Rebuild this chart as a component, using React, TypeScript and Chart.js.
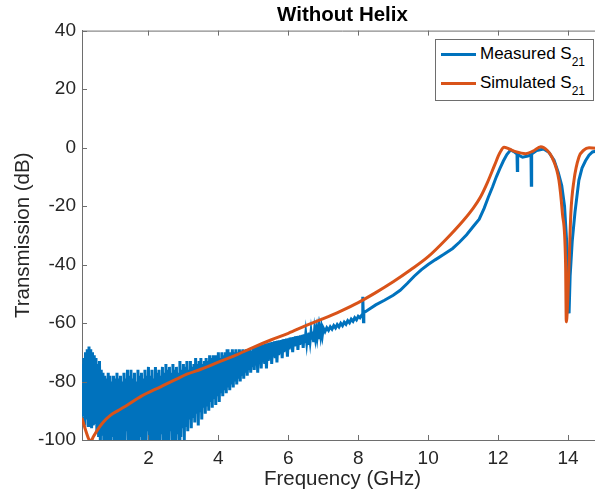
import React, { useEffect, useRef } from 'react';
import { Chart, registerables } from 'chart.js';

Chart.register(...registerables);

// ---------- data ----------
const chartTitle = 'Without Helix';
const xAxisLabel = 'Frequency (GHz)';
const yAxisLabel = 'Transmission (dB)';
const xTickValues = [2, 4, 6, 8, 10, 12, 14];
const yTickValues = [-100, -80, -60, -40, -20, 0, 20, 40];
const xRange = [0.1, 15];
const yRange = [-100, 40];

// measured: noisy low-frequency sweep (0.1 – 5 GHz)
const noiseFreq = [
  0.100, 0.125, 0.150, 0.175, 0.200, 0.225, 0.250, 0.275, 0.300, 0.325,
  0.350, 0.375, 0.400, 0.425, 0.450, 0.475, 0.500, 0.525, 0.550, 0.575,
  0.600, 0.625, 0.650, 0.675, 0.700, 0.725, 0.750, 0.775, 0.800, 0.825,
  0.850, 0.875, 0.900, 0.925, 0.950, 0.975, 1.000, 1.025, 1.050, 1.075,
  1.100, 1.125, 1.150, 1.175, 1.200, 1.225, 1.250, 1.275, 1.300, 1.325,
  1.350, 1.375, 1.400, 1.425, 1.450, 1.475, 1.500, 1.525, 1.550, 1.575,
  1.600, 1.625, 1.650, 1.675, 1.700, 1.725, 1.750, 1.775, 1.800, 1.825,
  1.850, 1.875, 1.900, 1.925, 1.950, 1.975, 2.000, 2.025, 2.050, 2.075,
  2.100, 2.125, 2.150, 2.175, 2.200, 2.225, 2.250, 2.275, 2.300, 2.325,
  2.350, 2.375, 2.400, 2.425, 2.450, 2.475, 2.500, 2.525, 2.550, 2.575,
  2.600, 2.625, 2.650, 2.675, 2.700, 2.725, 2.750, 2.775, 2.800, 2.825,
  2.850, 2.875, 2.900, 2.925, 2.950, 2.975, 3.000, 3.025, 3.050, 3.075,
  3.100, 3.125, 3.150, 3.175, 3.200, 3.225, 3.250, 3.275, 3.300, 3.325,
  3.350, 3.375, 3.400, 3.425, 3.450, 3.475, 3.500, 3.525, 3.550, 3.575,
  3.600, 3.625, 3.650, 3.675, 3.700, 3.725, 3.750, 3.775, 3.800, 3.825,
  3.850, 3.875, 3.900, 3.925, 3.950, 3.975, 4.000, 4.025, 4.050, 4.075,
  4.100, 4.125, 4.150, 4.175, 4.200, 4.225, 4.250, 4.275, 4.300, 4.325,
  4.350, 4.375, 4.400, 4.425, 4.450, 4.475, 4.500, 4.525, 4.550, 4.575,
  4.600, 4.625, 4.650, 4.675, 4.700, 4.725, 4.750, 4.775, 4.800, 4.825,
  4.850, 4.875, 4.900, 4.925, 4.950, 4.975, 5.000,
];
const noiseDb = [
  -74, -92, -72, -95, -70, -93, -69, -95, -68, -94,
  -69, -96, -70, -95, -71, -94, -72, -97, -74, -99,
  -73, -102, -76, -98, -77, -102, -78, -100, -79, -102,
  -77, -101, -78, -102, -80, -99, -78, -102, -79, -102,
  -77, -97, -79, -102, -78, -101, -80, -102, -77, -102,
  -79, -97, -76, -102, -78, -100, -76, -102, -79, -102,
  -77, -101, -80, -102, -76, -102, -78, -99, -77, -102,
  -79, -102, -76, -101, -78, -97, -75, -102, -78, -102,
  -76, -100, -79, -102, -75, -102, -77, -101, -76, -102,
  -78, -98, -75, -102, -77, -102, -74, -101, -76, -102,
  -75, -97, -77, -102, -74, -100, -76, -102, -75, -98,
  -77, -102, -73, -99, -76, -96, -74, -100, -75, -95,
  -73, -97, -76, -93, -73, -96, -75, -92, -74, -94,
  -72, -91, -74, -95, -73, -90, -72, -93, -74, -89,
  -73, -91, -72, -88, -73, -90, -71, -87, -72, -89,
  -71, -86, -72, -88, -71, -85, -70, -87, -72, -84,
  -70, -85, -71, -83, -70, -84, -69, -82, -71, -83,
  -70, -81, -69, -82, -70, -80, -69, -81, -70, -79,
  -69, -80, -69.5, -78, -69, -79, -69.5, -77, -69, -78,
  -69.5, -76, -69, -77, -69.5, -75, -68.5,
];

// measured: narrowing band (5 – 8 GHz)
const bandFreq = [
  5.025, 5.050, 5.075, 5.100, 5.125, 5.150, 5.175, 5.200, 5.225, 5.250,
  5.275, 5.300, 5.325, 5.350, 5.375, 5.400, 5.425, 5.450, 5.475, 5.500,
  5.525, 5.550, 5.575, 5.600, 5.625, 5.650, 5.675, 5.700, 5.725, 5.750,
  5.775, 5.800, 5.825, 5.850, 5.875, 5.900, 5.925, 5.950, 5.975, 6.000,
  6.025, 6.050, 6.075, 6.100, 6.125, 6.150, 6.175, 6.200, 6.225, 6.250,
  6.275, 6.300, 6.325, 6.350, 6.375, 6.400, 6.425, 6.450, 6.475, 6.500,
  6.525, 6.550, 6.575, 6.600, 6.625, 6.650, 6.675, 6.700, 6.725, 6.750,
  6.775, 6.800, 6.825, 6.850, 6.875, 6.900, 6.925, 6.950, 6.975, 7.000,
  7.050, 7.100, 7.150, 7.200, 7.250, 7.300, 7.350, 7.400, 7.450, 7.500,
  7.550, 7.600, 7.650, 7.700, 7.750, 7.800, 7.850, 7.900, 7.950, 8.000,
];
const bandDb = [
  -76, -68.3, -74.5, -68.1, -77, -67.9, -74, -67.7, -75.5, -67.5,
  -73.5, -67.3, -74, -67.1, -75.5, -66.9, -73, -66.8, -72.5, -66.6,
  -74, -66.5, -71.5, -66.3, -72, -66.2, -73.5, -66, -71, -65.9,
  -70.5, -65.8, -72, -65.6, -70, -65.5, -69.5, -65.3, -71.5, -65.2,
  -69, -65, -68.5, -64.9, -70, -64.8, -68, -64.6, -67.8, -64.5,
  -69.2, -64.4, -67.5, -64.2, -67.2, -64.1, -68.5, -63.9, -66.8, -63.7,
  -66.5, -63.5, -67.5, -63.3, -66, -63.1, -65.7, -62.9, -66.5, -62.7,
  -65, -62.5, -64.8, -62.3, -65.5, -62.1, -64.3, -61.9, -64, -61.7,
  -62.9, -61.6, -62.5, -61.3, -62.1, -60.9, -61.7, -60.5, -61.3, -60.1,
  -60.9, -59.7, -60.4, -59.2, -59.9, -58.7, -59.4, -58.2, -58.9, -57.7,
];

// measured: smooth part (8 – 15 GHz)
const measuredFreq = [
  8.05, 8.10, 8.12, 8.13, 8.15, 8.16, 8.30, 8.50, 8.75, 9.00,
  9.20, 9.40, 9.60, 9.80, 10.00, 10.20, 10.45, 10.70, 10.90, 11.10,
  11.30, 11.46, 11.60, 11.72, 11.84, 11.95, 12.05, 12.15, 12.25, 12.36,
  12.45, 12.54, 12.55, 12.56, 12.70, 12.85, 12.94, 12.95, 12.96, 13.10,
  13.30, 13.45, 13.60, 13.72, 13.82, 13.90, 13.96, 14.00, 14.03, 14.06,
  14.12, 14.20, 14.31, 14.40, 14.50, 14.60, 14.70, 14.85, 15.00,
];
const measuredDb = [
  -58.2, -57.3, -57, -51, -59.6, -56.5, -55.4, -53.8, -52.2, -50.5,
  -48.8, -46.5, -44, -41.8, -40, -38.4, -36.5, -34.5, -32.3, -29.8,
  -26.8, -24.5, -20.8, -17, -13.5, -10, -7.2, -4.6, -2.4, -0.8,
  -1.4, -2.2, -7.8, -2.4, -3.3, -2.9, -2.4, -12.9, -2.2, -1,
  -0.5, -1.6, -4.3, -8.5, -13, -20, -32, -44, -56.7, -44,
  -32, -22, -11.2, -7, -4.5, -2.6, -1.5, -1.1, -1,
];

const simulatedFreq = [
  0.10, 0.20, 0.30, 0.36, 0.42, 0.54, 0.70, 0.92, 1.15, 1.40,
  1.80, 2.35, 2.80, 3.10, 3.50, 4.00, 4.50, 5.00, 5.50, 6.00,
  6.50, 7.00, 7.50, 8.00, 8.50, 9.00, 9.50, 10.00, 10.50, 11.00,
  11.30, 11.50, 11.70, 11.90, 12.05, 12.17, 12.30, 12.50, 12.79, 13.00,
  13.22, 13.40, 13.55, 13.74, 13.84, 13.93, 13.95, 14.03, 14.08, 14.17,
  14.31, 14.45, 14.60, 14.80, 15.00,
];
const simulatedDb = [
  -92.5, -96.5, -99.8, -100.3, -99, -96.6, -94, -91.5, -89.8, -88,
  -85, -81.8, -79.2, -77.5, -75.8, -73.4, -71, -68.3, -65.8, -63.5,
  -60.9, -58.5, -55.9, -53, -49.6, -45.9, -41.8, -37.3, -31.5, -25,
  -20.5, -16.8, -11.8, -6, -1.8, 0.1, -0.4, -1.4, -2.1, -1.2,
  0.3, -0.9, -3.5, -11.2, -22.6, -39.7, -59.6, -39.7, -22.6, -11.2,
  -3.3, -0.9, -0.1, -0.2, -0.6,
];

const legendLabels = ['Measured S', 'Simulated S'];
const legendSubscripts = ['21', '21'];

// ---------- styles ----------
const FONT = "'Liberation Sans', Arial, Helvetica, sans-serif";
const BLUE = '#0072BD';
const ORANGE = '#D95319';
const AXIS_COLOR = '#262626';
const AXIS_LINE = '#6e6e6e';
const TICK_LEN = 5;

const boxTicksPlugin = {
  id: 'boxTicks',
  afterDatasetsDraw(chart: any) {
    const { ctx, chartArea } = chart;
    const { left, right, top, bottom } = chartArea;
    const xs = chart.scales.x;
    const ys = chart.scales.y;
    ctx.save();
    ctx.strokeStyle = AXIS_LINE;
    ctx.lineWidth = 1;
    ctx.beginPath();
    ctx.moveTo(left, top + 0.5);
    ctx.lineTo(right, top + 0.5);
    ctx.moveTo(right - 0.5, top);
    ctx.lineTo(right - 0.5, bottom);
    xs.ticks.forEach((t: any) => {
      const px = Math.round(xs.getPixelForValue(t.value)) + 0.5;
      ctx.moveTo(px, bottom);
      ctx.lineTo(px, bottom - TICK_LEN);
      ctx.moveTo(px, top);
      ctx.lineTo(px, top + TICK_LEN);
    });
    ys.ticks.forEach((t: any) => {
      const py = Math.round(ys.getPixelForValue(t.value)) + 0.5;
      ctx.moveTo(left, py);
      ctx.lineTo(left + TICK_LEN, py);
      ctx.moveTo(right, py);
      ctx.lineTo(right - TICK_LEN, py);
    });
    ctx.stroke();
    ctx.restore();
  },
};

export default function App() {
  const ref = useRef<HTMLCanvasElement>(null);

  useEffect(() => {
    const canvas = ref.current;
    if (!canvas) return;
    Chart.defaults.font.family = FONT;
    const allMeasuredFreq = noiseFreq.concat(bandFreq, measuredFreq);
    const allMeasuredDb = noiseDb.concat(bandDb, measuredDb);
    const chart = new Chart(canvas, {
      type: 'line',
      data: {
        datasets: [
          {
            label: 'Measured S21',
            data: allMeasuredFreq.map((f, i) => ({ x: f, y: allMeasuredDb[i] })),
            borderColor: BLUE,
            backgroundColor: BLUE,
            borderWidth: 3,
            pointRadius: 0,
            tension: 0,
            clip: 0,
            order: 1,
          } as any,
          {
            label: 'Simulated S21',
            data: simulatedFreq.map((f, i) => ({ x: f, y: simulatedDb[i] })),
            borderColor: ORANGE,
            backgroundColor: ORANGE,
            borderWidth: 3,
            pointRadius: 0,
            cubicInterpolationMode: 'monotone',
            clip: 0,
            order: 0,
          } as any,
        ],
      },
      options: {
        responsive: false,
        animation: false,
        devicePixelRatio: 1,
        events: [],
        layout: { padding: 0 },
        plugins: {
          legend: { display: false },
          tooltip: { enabled: false },
          title: {
            display: true,
            text: chartTitle,
            color: '#000',
            font: { size: 20.5, weight: 'bold', family: FONT },
            padding: { top: 3, bottom: 3 },
          },
        },
        scales: {
          x: {
            type: 'linear',
            position: 'bottom',
            min: xRange[0],
            max: xRange[1],
            afterBuildTicks: (s: any) => {
              s.ticks = xTickValues.map((v) => ({ value: v }));
            },
            afterFit: (s: any) => {
              s.height = 60;
            },
            grid: { display: false, drawTicks: false },
            border: { display: true, color: AXIS_LINE, width: 1 },
            ticks: {
              padding: 7,
              color: AXIS_COLOR,
              font: { size: 19, family: FONT },
              maxRotation: 0,
              autoSkip: false,
            },
            title: {
              display: true,
              text: xAxisLabel,
              color: AXIS_COLOR,
              font: { size: 20.5, family: FONT },
              padding: { top: 0, bottom: 8 },
            },
          },
          y: {
            type: 'linear',
            position: 'left',
            min: yRange[0],
            max: yRange[1],
            afterBuildTicks: (s: any) => {
              s.ticks = yTickValues.map((v) => ({ value: v }));
            },
            afterFit: (s: any) => {
              s.width = 82;
            },
            grid: { display: false, drawTicks: false },
            border: { display: true, color: AXIS_LINE, width: 1 },
            ticks: {
              padding: 6,
              color: AXIS_COLOR,
              font: { size: 19, family: FONT },
            },
            title: {
              display: true,
              text: yAxisLabel,
              color: AXIS_COLOR,
              font: { size: 20.5, family: FONT },
              padding: { top: 11, bottom: 0 },
            },
          },
          yRight: {
            type: 'linear',
            position: 'right',
            min: yRange[0],
            max: yRange[1],
            afterFit: (s: any) => {
              s.width = 82;
            },
            grid: { display: false, drawTicks: false },
            border: { display: false },
            ticks: { display: false },
          },
        },
      } as any,
      plugins: [boxTicksPlugin],
    });
    return () => chart.destroy();
  }, []);

  const rowCenters = [14, 43];
  const colors = [BLUE, ORANGE];

  return (
    <div
      style={{
        position: 'fixed',
        left: 0,
        top: 0,
        width: 595,
        height: 500,
        overflow: 'hidden',
        background: '#fff',
      }}
    >
      <canvas ref={ref} width={685} height={500} style={{ display: 'block', width: 685, height: 500 }} />
      <div
        style={{
          position: 'absolute',
          left: 435,
          top: 39,
          width: 159,
          height: 62,
          boxSizing: 'border-box',
          border: `1px solid ${AXIS_LINE}`,
          background: '#fff',
          fontFamily: FONT,
          color: '#000',
        }}
      >
        {legendLabels.map((lab, i) => (
          <div
            key={lab}
            style={{ position: 'absolute', left: 0, right: 0, top: rowCenters[i] - 12, height: 24 }}
          >
            <span
              style={{
                position: 'absolute',
                left: 5,
                top: 10.5,
                width: 35,
                height: 3,
                background: colors[i],
              }}
            />
            <span
              style={{
                position: 'absolute',
                left: 44,
                top: 0,
                lineHeight: '24px',
                fontSize: 17,
                whiteSpace: 'nowrap',
              }}
            >
              {lab}
              <sub style={{ fontSize: 12, verticalAlign: '-7px', lineHeight: 0 }}>{legendSubscripts[i]}</sub>
            </span>
          </div>
        ))}
      </div>
    </div>
  );
}
